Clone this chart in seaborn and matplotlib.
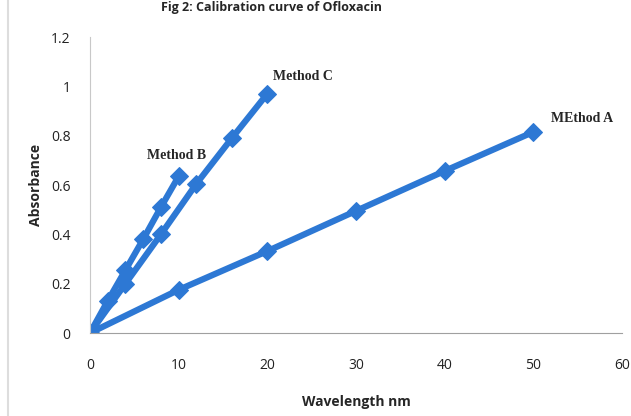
import numpy as np
import pandas as pd
import matplotlib.pyplot as plt
import seaborn as sns

# --- Data ---
conc_a = [0, 10, 20, 30, 40, 50]
abs_a = [0, 0.175, 0.332, 0.495, 0.657, 0.815]

conc_b = [0, 2, 4, 6, 8, 10]
abs_b = [0, 0.13, 0.255, 0.38, 0.51, 0.635]

conc_c = [0, 4, 8, 12, 16, 20]
abs_c = [0, 0.2, 0.4, 0.605, 0.79, 0.97]

series_labels = ["MEthod A", "Method B", "Method C"]

df = pd.concat([
    pd.DataFrame({"x": conc_a, "y": abs_a, "method": series_labels[0]}),
    pd.DataFrame({"x": conc_b, "y": abs_b, "method": series_labels[1]}),
    pd.DataFrame({"x": conc_c, "y": abs_c, "method": series_labels[2]}),
])

BLUE = "#2d78d4"

sns.set_style("white")
plt.rcParams['font.family'] = ['Open Sans', 'DejaVu Sans']

fig = plt.figure(figsize=(6.31, 4.16), dpi=100)
ax = fig.add_axes([0.1426, 0.1995, 0.8431, 0.7115])

for name, grp in df.groupby("method"):
    sns.lineplot(data=grp, x="x", y="y", ax=ax, color=BLUE, linewidth=4.5,
                 marker="D", markersize=9, markeredgecolor=BLUE,
                 sort=False, legend=False)

# series labels next to the last point
serif = dict(family="Liberation Serif", fontweight="bold", fontsize=10)
ax.text(conc_a[-1] + 2.0, abs_a[-1] + 0.04, series_labels[0], **serif)
ax.text(conc_b[-1] - 3.6, abs_b[-1] + 0.07, series_labels[1], **serif)
ax.text(conc_c[-1] + 0.6, abs_c[-1] + 0.055, series_labels[2], **serif)

ax.set_xlim(0, 60)
ax.set_ylim(0, 1.2)
ax.set_xticks([0, 10, 20, 30, 40, 50, 60])
ax.set_yticks([0, 0.2, 0.4, 0.6, 0.8, 1.0, 1.2])
ax.set_yticklabels(["0", "0.2", "0.4", "0.6", "0.8", "1", "1.2"])
ax.tick_params(axis="x", length=0, labelsize=10, colors="#222222", pad=18)
ax.tick_params(axis="y", length=0, labelsize=10, colors="#222222", pad=14)

ax.set_xlabel("Wavelength nm", fontsize=10, fontweight="bold", labelpad=16)
ax.set_ylabel("Absorbance", fontsize=10, fontweight="bold", labelpad=6)

for side in ["top", "right"]:
    ax.spines[side].set_visible(False)
ax.spines["left"].set_color("#c8c8c8")
ax.spines["bottom"].set_color("#a0a0a0")

# title sits right at the top edge, as in the reference
fig.text(0.43, 0.998, "Fig 2: Calibration curve of Ofloxacin", ha="center",
         va="top", fontsize=9, fontweight="bold")

# faint frame line on the left
fig.add_artist(plt.Line2D([0.013, 0.013], [0, 1], color="#dddddd", lw=1.5))

fig.savefig("out.png", dpi=100)
